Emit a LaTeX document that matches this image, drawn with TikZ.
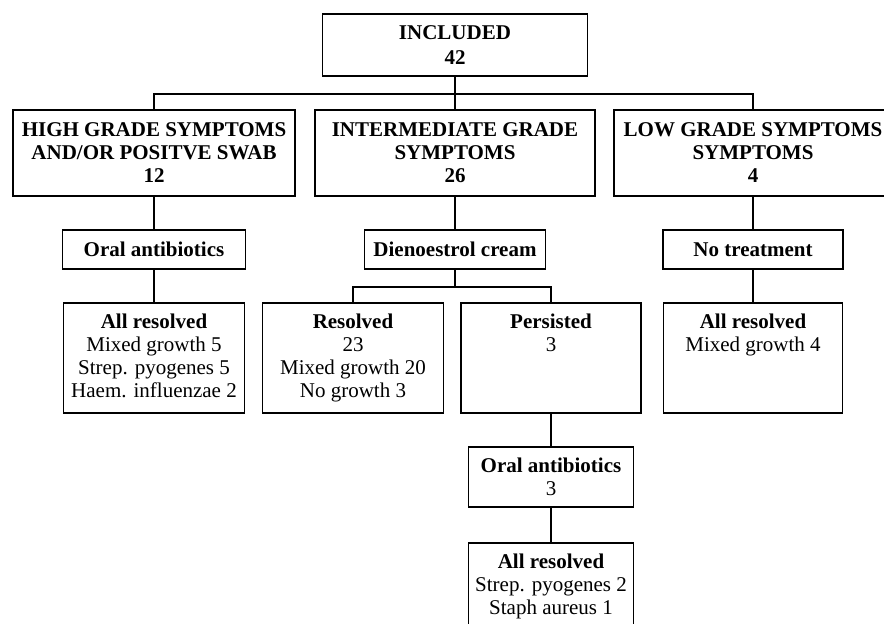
\documentclass[tikz,border=0pt]{standalone}
\usepackage{fontspec}
\setmainfont{Liberation Serif}
\newcommand\fsz{\fontsize{21}{23}\selectfont}
\begin{document}
\begin{tikzpicture}[x=1pt,y=-1pt,
  box/.style={draw, line width=1.5pt, inner sep=0pt, align=center, font=\fsz},
  conn/.style={line width=1.5pt},
  txt/.style={inner sep=0pt, align=center, font=\fsz, anchor=north}]
\useasboundingbox (0,0) rectangle (884,624);
\clip (0,0) rectangle (884,624);
% top
\node[box, minimum width=265, minimum height=62, font=\fontsize{21}{25}\selectfont] (inc) at (455,45) {\textbf{INCLUDED}\\\textbf{42}};
% row 2
\node[box, minimum width=282, minimum height=86] (h1) at (154,153) {\textbf{HIGH GRADE SYMPTOMS}\\\textbf{AND/OR POSITVE SWAB}\\\textbf{12}};
\node[box, minimum width=280, minimum height=86] (h2) at (455,153) {\textbf{INTERMEDIATE GRADE}\\\textbf{SYMPTOMS}\\\textbf{26}};
\node[box, minimum width=278, minimum height=86] (h3) at (753,153) {\textbf{LOW GRADE SYMPTOMS}\\\textbf{SYMPTOMS}\\\textbf{4}};
% row 3
\node[box, minimum width=183, minimum height=39] (t1) at (154,249.5) {\textbf{Oral antibiotics}};
\node[box, minimum width=181, minimum height=39] (t2) at (455,249.5) {\textbf{Dienoestrol cream}};
\node[box, minimum width=180, minimum height=39] (t3) at (753,249.5) {\textbf{No treatment}};
% row 4
\node[box, minimum width=181, minimum height=110] (r1) at (154,358) {};
\node[box, minimum width=181, minimum height=110] (r2) at (353,358) {};
\node[box, minimum width=180, minimum height=110] (r3) at (551,358) {};
\node[box, minimum width=179, minimum height=110] (r4) at (753,358) {};
\node[txt] (r1t) at (154,314) {\textbf{All resolved}\\Mixed growth 5\\Strep. pyogenes 5\\Haem. influenzae 2};
\node[txt] (r2t) at (353,314) {\textbf{Resolved}\\23\\Mixed growth 20\\No growth 3};
\node[txt] (r3t) at (551,314) {\textbf{Persisted}\\3};
\node[txt] (r4t) at (753,314) {\textbf{All resolved}\\Mixed growth 4};
% bottom chain
\node[box, minimum width=165, minimum height=60] (oa) at (551,477) {\textbf{Oral antibiotics}\\3};
\node[box, minimum width=165, minimum height=107] (fin) at (551,596.5) {};
\node[txt] (fint) at (551,554) {\textbf{All resolved}\\Strep. pyogenes 2\\Staph aureus 1};
% connectors
\coordinate (busA) at (455,94);
\draw[conn] (inc.south) -- (busA);
\draw[conn] (h1.north) |- (busA) -| (h3.north);
\draw[conn] (busA) -- (h2.north);
\draw[conn] (h1.south) -- (t1.north);
\draw[conn] (h2.south) -- (t2.north);
\draw[conn] (h3.south) -- (t3.north);
\draw[conn] (t1.south) -- (r1.north);
\coordinate (busB) at (455,287);
\draw[conn] (t2.south) -- (busB);
\draw[conn] (r2.north) |- (busB) -| (r3.north);
\draw[conn] (t3.south) -- (r4.north);
\draw[conn] (r3.south) -- (oa.north);
\draw[conn] (oa.south) -- (fin.north);
\end{tikzpicture}
\end{document}
